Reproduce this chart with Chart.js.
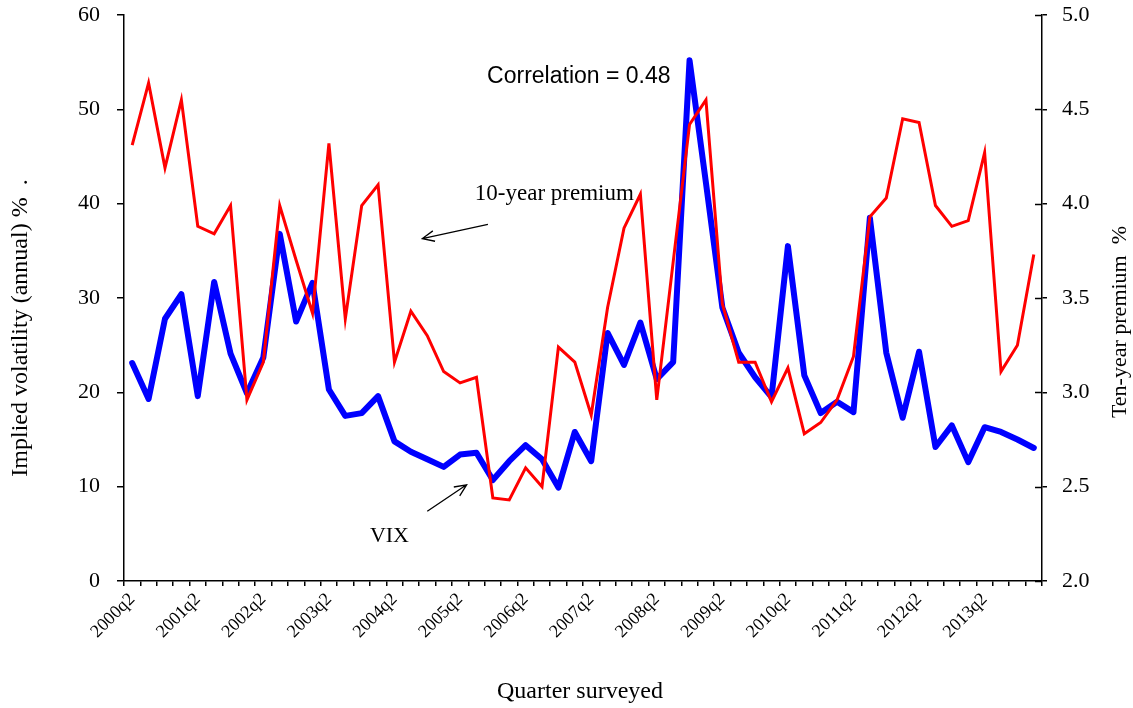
<!DOCTYPE html>
<html>
<head>
<meta charset="utf-8">
<script src="https://cdn.jsdelivr.net/npm/chart.js@4.4.1/dist/chart.umd.min.js"></script>
<style>
  html, body { margin: 0; padding: 0; background: #ffffff; }
  #wrap { width: 1133px; height: 708px; }
</style>
</head>
<body>
<div id="wrap"><canvas id="c" width="1133" height="708"></canvas></div>
<script>
// Quarters surveyed, 2000q2 to 2014q1
const quarters = [
  '2000q2','2000q3','2000q4','2001q1','2001q2','2001q3','2001q4','2002q1',
  '2002q2','2002q3','2002q4','2003q1','2003q2','2003q3','2003q4','2004q1',
  '2004q2','2004q3','2004q4','2005q1','2005q2','2005q3','2005q4','2006q1',
  '2006q2','2006q3','2006q4','2007q1','2007q2','2007q3','2007q4','2008q1',
  '2008q2','2008q3','2008q4','2009q1','2009q2','2009q3','2009q4','2010q1',
  '2010q2','2010q3','2010q4','2011q1','2011q2','2011q3','2011q4','2012q1',
  '2012q2','2012q3','2012q4','2013q1','2013q2','2013q3','2013q4','2014q1'
];

// VIX implied volatility, annual %, left axis
const vix = [
  23.1, 19.3, 27.8, 30.4, 19.6, 31.7, 24.1, 19.9, 23.7, 36.8,
  27.5, 31.6, 20.3, 17.5, 17.8, 19.6, 14.8, 13.7, 12.9, 12.1,
  13.4, 13.6, 10.7, 12.7, 14.4, 12.9,  9.9, 15.8, 12.7, 26.3,
  22.9, 27.4, 21.4, 23.2, 55.2, 42.2, 29.0, 24.2, 21.6, 19.5,
  35.5, 21.8, 17.8, 19.0, 17.9, 38.5, 24.2, 17.3, 24.3, 14.2,
  16.5, 12.6, 16.3, 15.8, 15.0, 14.1
];

// Ten-year premium, %, right axis
const premium = [
  4.31, 4.64, 4.19, 4.55, 3.88, 3.84, 3.99, 2.96, 3.16, 3.99,
  3.70, 3.42, 4.32, 3.39, 3.99, 4.10, 3.16, 3.43, 3.30, 3.11,
  3.05, 3.08, 2.44, 2.43, 2.60, 2.50, 3.24, 3.16, 2.88, 3.45,
  3.87, 4.05, 2.96, 3.69, 4.42, 4.55, 3.47, 3.16, 3.16, 2.95,
  3.13, 2.78, 2.84, 2.96, 3.19, 3.93, 4.03, 4.45, 4.43, 3.99,
  3.88, 3.91, 4.27, 3.11, 3.25, 3.73
];

const leftTicks = [0, 10, 20, 30, 40, 50, 60];
const rightTicks = [2.0, 2.5, 3.0, 3.5, 4.0, 4.5, 5.0];
const labelEvery = 4;

const leftTitle = 'Implied volatility (annual) %  .';
const rightTitle = 'Ten-year premium  %';
const bottomTitle = 'Quarter surveyed';
const correlationText = 'Correlation = 0.48';
const premiumNote = '10-year premium';
const vixNote = 'VIX';

const SERIF = '"Liberation Serif", "DejaVu Serif", serif';
const SANS = '"Liberation Sans", Arial, sans-serif';

function arrow(ctx, x0, y0, x1, y1) {
  const a = Math.atan2(y1 - y0, x1 - x0);
  const h = 13, spread = 0.42;
  ctx.beginPath();
  ctx.moveTo(x0, y0);
  ctx.lineTo(x1, y1);
  ctx.moveTo(x1 - h * Math.cos(a - spread), y1 - h * Math.sin(a - spread));
  ctx.lineTo(x1, y1);
  ctx.lineTo(x1 - h * Math.cos(a + spread), y1 - h * Math.sin(a + spread));
  ctx.stroke();
}

// Axis titles, inner half of the right-axis ticks, and the text notes with arrows
const decorations = {
  id: 'decorations',
  afterDraw(chart) {
    const ctx = chart.ctx;
    const xs = chart.scales.x, yl = chart.scales.yL, yr = chart.scales.yR;
    const area = chart.chartArea;
    ctx.save();
    ctx.fillStyle = '#000';
    ctx.strokeStyle = '#000';

    // right axis ticks cross the axis line
    ctx.lineWidth = 1.5;
    ctx.beginPath();
    rightTicks.forEach(v => {
      const y = Math.round(yr.getPixelForValue(v)) + 0.5;
      ctx.moveTo(area.right - 7, y);
      ctx.lineTo(area.right, y);
    });
    ctx.stroke();

    // axis titles
    ctx.textAlign = 'center';
    ctx.textBaseline = 'middle';
    ctx.font = '24px ' + SERIF;
    ctx.save();
    ctx.translate(21, 328);
    ctx.rotate(-Math.PI / 2);
    ctx.fillText(leftTitle, 0, 0);
    ctx.restore();
    ctx.font = '22px ' + SERIF;
    ctx.save();
    ctx.translate(1120, 322);
    ctx.rotate(-Math.PI / 2);
    ctx.fillText(rightTitle, 0, 0);
    ctx.restore();
    ctx.font = '24px ' + SERIF;
    ctx.fillText(bottomTitle, 580, 692);

    // correlation note
    ctx.font = '23px ' + SANS;
    ctx.textAlign = 'left';
    ctx.fillText(correlationText, xs.getPixelForValue(21.65), yl.getPixelForValue(53.5));

    // series notes
    ctx.font = '23px ' + SERIF;
    ctx.fillText(premiumNote, xs.getPixelForValue(20.9), yl.getPixelForValue(41.0));
    ctx.font = '22px ' + SERIF;
    ctx.fillText(vixNote, xs.getPixelForValue(14.5), yl.getPixelForValue(4.8));

    ctx.lineWidth = 1.3;
    arrow(ctx, xs.getPixelForValue(21.7), yl.getPixelForValue(37.8),
               xs.getPixelForValue(17.7), yl.getPixelForValue(36.3));
    arrow(ctx, xs.getPixelForValue(18.0), yl.getPixelForValue(7.4),
               xs.getPixelForValue(20.4), yl.getPixelForValue(10.2));
    ctx.restore();
  }
};

new Chart(document.getElementById('c'), {
  type: 'line',
  data: {
    labels: quarters,
    datasets: [
      {
        label: 'VIX',
        data: vix,
        yAxisID: 'yL',
        borderColor: '#0000ff',
        borderWidth: 6,
        borderJoinStyle: 'round',
        borderCapStyle: 'round',
        pointRadius: 0,
        tension: 0,
        fill: false,
        order: 1
      },
      {
        label: '10-year premium',
        data: premium,
        yAxisID: 'yR',
        borderColor: '#ff0000',
        borderWidth: 3,
        borderJoinStyle: 'miter',
        pointRadius: 0,
        tension: 0,
        fill: false,
        order: 0
      }
    ]
  },
  options: {
    responsive: false,
    animation: false,
    devicePixelRatio: 1,
    layout: { padding: { top: 15, left: 0, right: 0, bottom: 0 } },
    plugins: {
      legend: { display: false },
      tooltip: { enabled: false },
      title: { display: false }
    },
    scales: {
      x: {
        type: 'category',
        offset: true,
        grid: {
          display: true,
          drawOnChartArea: false,
          offset: true,
          tickLength: 5,
          color: '#000',
          lineWidth: 1.5
        },
        border: { display: true, color: '#000', width: 1.5 },
        ticks: {
          autoSkip: false,
          maxRotation: 45,
          minRotation: 45,
          padding: 3,
          color: '#000',
          font: { family: SERIF, size: 18 },
          callback: (v, i) => (i % labelEvery === 0 ? quarters[i] : '')
        },
        afterFit: s => { s.height = 127; s.paddingLeft = 0; s.paddingRight = 0; }
      },
      yL: {
        position: 'left',
        min: leftTicks[0],
        max: leftTicks[leftTicks.length - 1],
        afterBuildTicks: s => { s.ticks = leftTicks.map(v => ({ value: v })); },
        grid: {
          display: true,
          drawOnChartArea: false,
          tickLength: 7,
          color: '#000',
          lineWidth: 1.5
        },
        border: { display: true, color: '#000', width: 1.5 },
        ticks: {
          padding: 17,
          color: '#000',
          font: { family: SERIF, size: 22 },
          callback: v => String(v)
        },
        afterFit: s => { s.width = 124; s.paddingTop = 0; s.paddingBottom = 0; }
      },
      yR: {
        position: 'right',
        min: rightTicks[0],
        max: rightTicks[rightTicks.length - 1],
        afterBuildTicks: s => { s.ticks = rightTicks.map(v => ({ value: v })); },
        grid: {
          display: true,
          drawOnChartArea: false,
          tickLength: 5,
          color: '#000',
          lineWidth: 1.5
        },
        border: { display: true, color: '#000', width: 1.5 },
        ticks: {
          padding: 15,
          color: '#000',
          font: { family: SERIF, size: 22 },
          callback: v => Number(v).toFixed(1)
        },
        afterFit: s => { s.width = 91; s.paddingTop = 0; s.paddingBottom = 0; }
      }
    }
  },
  plugins: [decorations]
});
</script>
</body>
</html>
